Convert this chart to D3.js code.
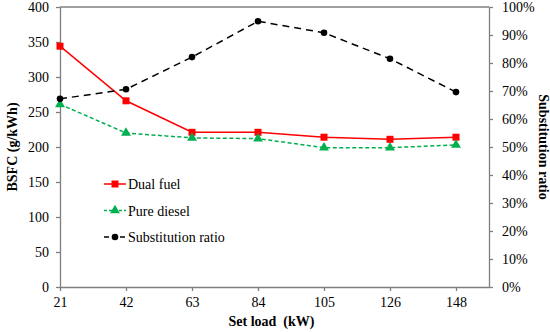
<!DOCTYPE html>
<html>
<head>
<meta charset="utf-8">
<script src="https://cdn.jsdelivr.net/npm/d3@7"></script>
<style>
  body { margin: 0; background: #fff; }
  svg text { font-family: 'Liberation Serif', 'Times New Roman', 'DejaVu Serif', serif !important; }
</style>
</head>
<body>
<div id="chart"></div>
<script>
(function() {

  var loads = ["21", "42", "63", "84", "105", "126", "148"];
  var dualFuel = [344, 266, 221, 221, 214, 211, 214];
  var pureDiesel = [261, 220, 213, 212, 199, 199, 203];
  var subRatio = [67.2, 70.6, 82.1, 94.9, 90.8, 81.5, 69.6];
  var leftTicks = [0, 50, 100, 150, 200, 250, 300, 350, 400];
  var rightTicks = [0, 10, 20, 30, 40, 50, 60, 70, 80, 90, 100];

  var serif = "'Liberation Serif', 'Times New Roman', serif";

  var margin = { top: 7, left: 60, right: 61, bottom: 45 },
  width = 550 - margin.left - margin.right,
  height = 332 - margin.top - margin.bottom;

  var svg = d3.select("#chart")
        .append("svg")
        .attr("width", 550)
        .attr("height", 332)
        .style("font-family", serif)
        .append("g")
        .attr("transform", "translate(" + margin.left + "," + margin.top + ")");

  var x = d3.scaleLinear().domain([0, loads.length - 0.5]).range([0, width]);
  var y = d3.scaleLinear().domain([0, 400]).range([height, 0]);
  var y2 = d3.scaleLinear().domain([0, 100]).range([height, 0]);

  var axisColor = "#7f7f7f";

  // frame top
  svg.append("line")
    .attr("x1", 0).attr("x2", width)
    .attr("y1", 0).attr("y2", 0)
    .attr("stroke", axisColor).attr("stroke-width", 1.3);

  var xAxis = svg.append("g")
    .attr("transform", "translate(0," + height + ")")
    .call(d3.axisBottom(x).tickValues(d3.range(loads.length))
      .tickFormat(function(i){ return loads[i]; })
      .tickSize(4).tickSizeOuter(0).tickPadding(6));

  var yAxis = svg.append("g")
    .call(d3.axisLeft(y).tickValues(leftTicks).tickSize(4).tickSizeOuter(0).tickPadding(7));

  var y2Axis = svg.append("g")
    .attr("transform", "translate(" + width + ",0)")
    .call(d3.axisRight(y2).tickValues(rightTicks)
      .tickFormat(function(d){ return d + "%"; })
      .tickSize(4).tickSizeOuter(0).tickPadding(9));

  [xAxis, yAxis, y2Axis].forEach(function(a) {
    a.attr("font-family", null).attr("font-size", null);
    a.selectAll("path, line").attr("stroke", axisColor).attr("stroke-width", 1.3);
    a.selectAll("text").style("font-size", "14px").style("font-family", serif).attr("fill", "#000");
  });

  var series = [
    { name: "Dual fuel", values: dualFuel, scale: y, color: "#ff0000", dash: null, marker: "square" },
    { name: "Pure diesel", values: pureDiesel, scale: y, color: "#00b050", dash: "4,2.5", marker: "triangle" },
    { name: "Substitution ratio", values: subRatio, scale: y2, color: "#000000", dash: "7,5", marker: "circle" }
  ];

  function drawMarker(g, type, color) {
    if (type === "square") {
      g.append("rect").attr("x", -3.5).attr("y", -3.5).attr("width", 7).attr("height", 7).attr("fill", color);
    } else if (type === "triangle") {
      g.append("path").attr("d", d3.symbol().type(d3.symbolTriangle).size(42)).attr("fill", color);
    } else {
      g.append("circle").attr("r", 3.3).attr("fill", color);
    }
  }

  series.forEach(function(s) {
    var line = d3.line()
      .x(function(d, i){ return x(i); })
      .y(function(d){ return s.scale(d); });

    svg.append("path")
      .datum(s.values)
      .attr("d", line)
      .attr("fill", "none")
      .attr("stroke", s.color)
      .attr("stroke-width", 1.5)
      .attr("stroke-dasharray", s.dash);

    s.values.forEach(function(d, i) {
      var g = svg.append("g").attr("transform", "translate(" + x(i) + "," + s.scale(d) + ")");
      drawMarker(g, s.marker, s.color);
    });
  });

  // legend
  var legend = svg.append("g").attr("transform", "translate(44,177)");
  series.forEach(function(s, i) {
    var row = legend.append("g").attr("transform", "translate(0," + (i * 26.5) + ")");
    row.append("line")
      .attr("x1", 0).attr("x2", 22).attr("y1", 0).attr("y2", 0)
      .attr("stroke", s.color).attr("stroke-width", 1.5)
      .attr("stroke-dasharray", s.dash ? (i === 2 ? "5,3" : "3,2") : null);
    var m = row.append("g").attr("transform", "translate(11,0)");
    drawMarker(m, s.marker, s.color);
    row.append("text")
      .attr("x", 24).attr("y", 5)
      .style("font-size", "14px")
      .text(s.name);
  });

  // axis titles
  svg.append("text")
    .attr("x", width / 2 - 3).attr("y", height + 39)
    .attr("text-anchor", "middle")
    .style("font-size", "14px").style("font-weight", "bold")
    .style("white-space", "pre")
    .text("Set load  (kW)");

  svg.append("text")
    .attr("transform", "translate(-43," + (height / 2) + ") rotate(-90)")
    .attr("text-anchor", "middle")
    .style("font-size", "14px").style("font-weight", "bold")
    .text("BSFC (g/kWh)");

  svg.append("text")
    .attr("transform", "translate(" + (width + 50) + "," + (height / 2) + ") rotate(90)")
    .attr("text-anchor", "middle")
    .style("font-size", "14px").style("font-weight", "bold")
    .text("Substitution ratio");

})();
</script>
</body>
</html>
